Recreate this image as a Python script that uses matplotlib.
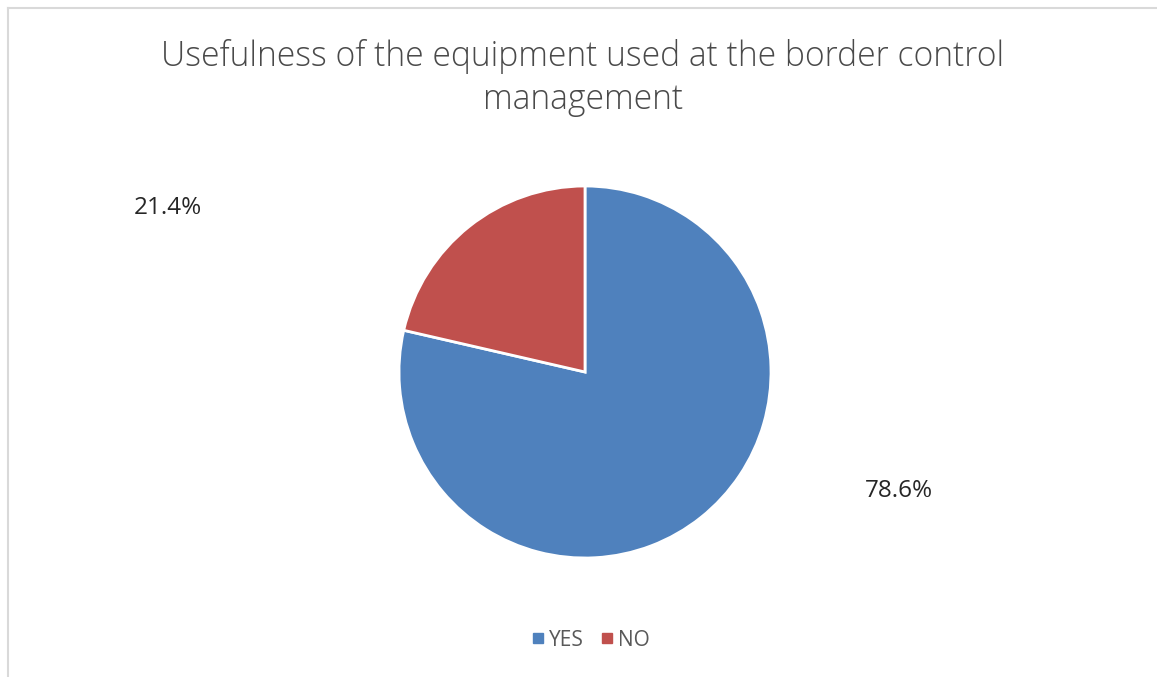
import matplotlib
matplotlib.use("Agg")
import matplotlib.pyplot as plt
from matplotlib.lines import Line2D

categories = ["YES", "NO"]
values = [78.6, 21.4]
colors = ["#4F81BD", "#C0504D"]
title = "Usefulness of the equipment used at the border control\nmanagement"

plt.rcParams['font.family'] = ['Open Sans', 'DejaVu Sans']

fig = plt.figure(figsize=(11.57, 6.77), dpi=100)
fig.patch.set_facecolor("white")

# border (left and top visible)
fig.add_artist(Line2D([8/1157, 8/1157], [0, 1 - 8/677], transform=fig.transFigure,
                      color="#D9D9D9", lw=1.5))
fig.add_artist(Line2D([8/1157, 1], [1 - 8/677, 1 - 8/677], transform=fig.transFigure,
                      color="#D9D9D9", lw=1.5))

ax = fig.add_axes([(585 - 186) / 1157, (677 - 372 - 186) / 677, 372 / 1157, 372 / 677])
wedges, _ = ax.pie(values, colors=colors, startangle=90, counterclock=False,
                   wedgeprops=dict(edgecolor="white", linewidth=2))
ax.set_xlim(-1, 1)
ax.set_ylim(-1, 1)
ax.set_aspect("equal")

label_pos = [(1.69, -0.64), (-2.24, 0.88)]
for v, (x, y) in zip(values, label_pos):
    ax.text(x, y, f"{v:.1f}%", ha="center", va="center", fontsize=17.5,
            color="#262626", clip_on=False)

fig.text(583 / 1157, 1 - 78 / 677, title, ha="center", va="center", fontsize=24.2,
         color="#4A4A4A", linespacing=1.35, fontweight="light")

handles = [Line2D([], [], marker="s", linestyle="", markersize=7.5, color=c) for c in colors]
fig.legend(handles, categories, loc="center", bbox_to_anchor=(586 / 1157, 1 - 640 / 677),
           ncol=2, frameon=False, fontsize=15, handletextpad=-0.25, columnspacing=0.4,
           handlelength=1.5, labelcolor="#595959")

fig.savefig("out.png", dpi=100)
